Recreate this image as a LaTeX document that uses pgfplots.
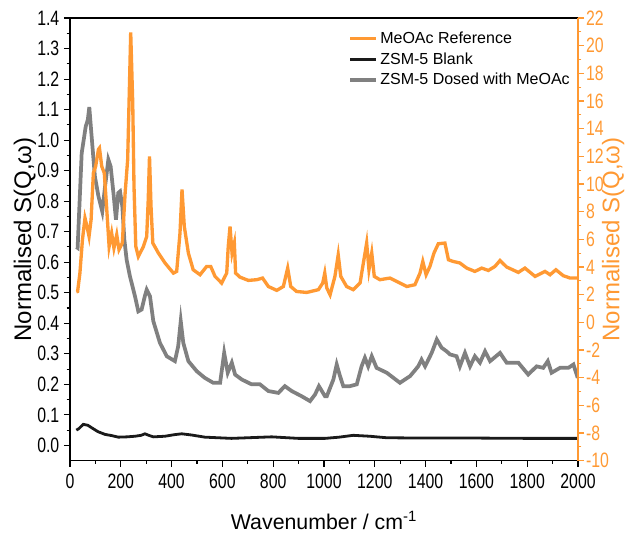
\documentclass[border=0pt]{standalone}
\usepackage{fontspec}
\setmainfont{Liberation Sans}
\usepackage{graphicx}
\usepackage{pgfplots}
\pgfplotsset{compat=1.18}
\definecolor{meoac}{HTML}{FF9933}
\definecolor{dosed}{HTML}{808080}
\definecolor{blank}{HTML}{1A1A1A}

\begin{document}
\begin{tikzpicture}
\useasboundingbox (-52.5pt,-54.75pt) rectangle (423.75pt,345.5pt);
\pgfplotsset{
  common/.style={
    width=381pt, height=332pt, scale only axis,
    at={(0,0)}, anchor=south west,
    xmin=0, xmax=2000,
    xtick={0,200,...,2000},
    minor x tick num=1,
    tick align=outside,
    major tick length=4.5pt, minor tick length=2.5pt,
    tick label style={font=\fontsize{12.5}{15}\selectfont},
    xticklabel={\scalebox{0.95}[1.25]{\pgfmathprintnumber{\tick}}},
    yticklabel={\scalebox{0.95}[1.25]{\pgfmathprintnumber{\tick}}},
    /pgf/number format/assume math mode=true,
    /pgf/number format/1000 sep={},
  }
}
\begin{axis}[common,
  ymin=-0.05, ymax=1.4,
  ytick={0,0.1,...,1.4},
  minor y tick num=1,
  xtick pos=bottom, ytick pos=left,
  yticklabel style={/pgf/number format/.cd, fixed, fixed zerofill, precision=1},
  xticklabel style={yshift=-2pt},
  axis line style={line width=0.9pt, black},
  every tick/.style={black, line width=0.8pt},
  xlabel={Wavenumber / cm\textsuperscript{-1}},
  xlabel style={font=\fontsize{16}{19}\selectfont, yshift=-10pt},
  ylabel={Normalised S(Q,ω)},
  ylabel style={font=\fontsize{18}{21}\selectfont},
  ylabel shift=-6pt,
  legend style={at={(0.54,0.982)}, anchor=north west, draw=none, fill=none,
    font=\fontsize{12}{14.5}\selectfont, row sep=1.5pt,
    legend cell align=left},
  legend image code/.code={\draw[#1] (0pt,0pt) -- (19pt,0pt);},
]
\addlegendimage{meoac, line width=2.5pt}
\addlegendentry{MeOAc Reference}

\addplot[blank, line width=2.1pt] coordinates {
(25,0.05)(35,0.055)(52,0.069)(70,0.066)(85,0.058)(110,0.045)(138,0.036)(165,0.032)
(190,0.027)(225,0.028)(256,0.03)(280,0.033)(295,0.038)(310,0.033)(328,0.028)(374,0.03)
(410,0.035)(440,0.038)(479,0.034)(531,0.027)(636,0.023)(794,0.028)(899,0.023)(1004,0.023)
(1060,0.027)(1115,0.033)(1180,0.03)(1247,0.025)(1400,0.024)(1600,0.024)(1800,0.023)(2000,0.023)
};
\addlegendentry{ZSM-5 Blank}

\addplot[dosed, line width=2.8pt] coordinates {
(25,0.65)(30,0.647)(46,0.957)(62,1.045)(70,1.066)(76,1.108)(83,1.034)(98,0.881)
(112,0.816)(127,0.766)(138,0.848)(151,0.936)(160,0.914)(171,0.827)(181,0.739)(190,0.827)
(197,0.832)(206,0.783)(214,0.674)(223,0.608)(236,0.554)(256,0.488)(269,0.439)(282,0.445)
(295,0.49)(302,0.510)(315,0.488)(328,0.407)(354,0.336)(381,0.292)(413,0.276)(426,0.325)
(436,0.407)(446,0.336)(466,0.276)(499,0.243)(531,0.221)(564,0.205)(591,0.205)(607,0.303)
(621,0.238)(637,0.271)(650,0.232)(676,0.216)(715,0.2)(748,0.2)(781,0.178)(820,0.172)
(846,0.194)(873,0.178)(912,0.161)(945,0.145)(965,0.167)(980,0.194)(1004,0.161)(1011,0.161)
(1037,0.216)(1050,0.265)(1063,0.227)(1076,0.194)(1102,0.194)(1129,0.2)(1148,0.259)(1161,0.287)
(1174,0.259)(1188,0.292)(1207,0.254)(1247,0.238)(1299,0.205)(1339,0.227)(1371,0.259)(1384,0.281)
(1398,0.259)(1424,0.303)(1444,0.347)(1463,0.320)(1483,0.308)(1496,0.298)(1522,0.292)(1535,0.259)
(1555,0.303)(1575,0.259)(1594,0.292)(1614,0.271)(1634,0.308)(1654,0.276)(1693,0.303)(1719,0.271)
(1765,0.271)(1804,0.232)(1837,0.259)(1863,0.254)(1881,0.276)(1896,0.238)(1929,0.254)(1962,0.254)
(1982,0.265)(1999,0.221)
};
\addlegendentry{ZSM-5 Dosed with MeOAc}
\end{axis}

\begin{axis}[common,
  ymin=-10, ymax=22,
  ytick={-10,-8,...,22},
  minor y tick num=1,
  axis x line=none,
  axis y line*=right,
  y axis line style={meoac, line width=0.9pt, -},
  every tick/.style={meoac, line width=0.8pt},
  yticklabel style={text=meoac, xshift=-2pt},
  ylabel={Normalised S(Q,ω)},
  ylabel style={font=\fontsize{18}{21}\selectfont, text=meoac},
  ylabel shift=-12pt,
]
\addplot[meoac, line width=2.5pt] coordinates {
(25,2.2)(30,2.23)(39,3.56)(49,5.97)(59,7.54)(67,6.93)(75,6.21)(83,7.41)(92,10.79)
(101,11.27)(112,12.5)(116,12.6)(125,11.27)(135,10.79)(144,8.37)(154,5.48)(164,6.45)
(173,5.37)(184,6.33)(193,5.25)(206,5.73)(217,9.34)(227,11.75)(234,17.05)(239,20.95)
(247,15.85)(252,9.82)(259,5.48)(269,4.76)(289,5.48)(302,6.21)(308,8.86)(313,12.0)
(319,8.37)(326,5.73)(348,5.01)(374,4.29)(407,3.56)(420,3.68)(433,6.45)(441,9.6)
(450,6.93)(466,5.01)(485,3.80)(512,3.44)(538,4.04)(554,4.04)(571,3.32)(597,2.84)
(617,3.56)(623,5.48)(630,6.93)(638,5.01)(647,5.73)(652,3.56)(669,3.27)(702,3.03)
(735,3.08)(758,3.20)(781,2.59)(814,2.31)(840,2.59)(857,3.92)(869,2.59)(892,2.23)
(932,2.16)(978,2.36)(995,2.84)(1003,3.56)(1011,2.48)(1024,1.99)(1043,3.32)(1056,4.88)
(1066,3.32)(1089,2.59)(1115,2.36)(1142,2.84)(1155,4.29)(1168,5.73)(1177,3.80)(1188,5.01)
(1198,3.32)(1220,3.08)(1260,3.20)(1299,2.84)(1326,2.59)(1358,2.72)(1378,3.56)(1389,4.40)
(1402,3.44)(1417,4.04)(1433,5.01)(1450,5.68)(1476,5.73)(1490,4.52)(1509,4.40)(1535,4.29)
(1562,3.92)(1594,3.68)(1621,3.92)(1647,3.75)(1673,4.04)(1693,4.47)(1719,4.0)(1765,3.61)
(1791,3.92)(1831,3.32)(1870,3.68)(1890,3.44)(1913,3.80)(1942,3.37)(1969,3.20)(2000,3.20)
};
\end{axis}
\end{tikzpicture}
\end{document}
